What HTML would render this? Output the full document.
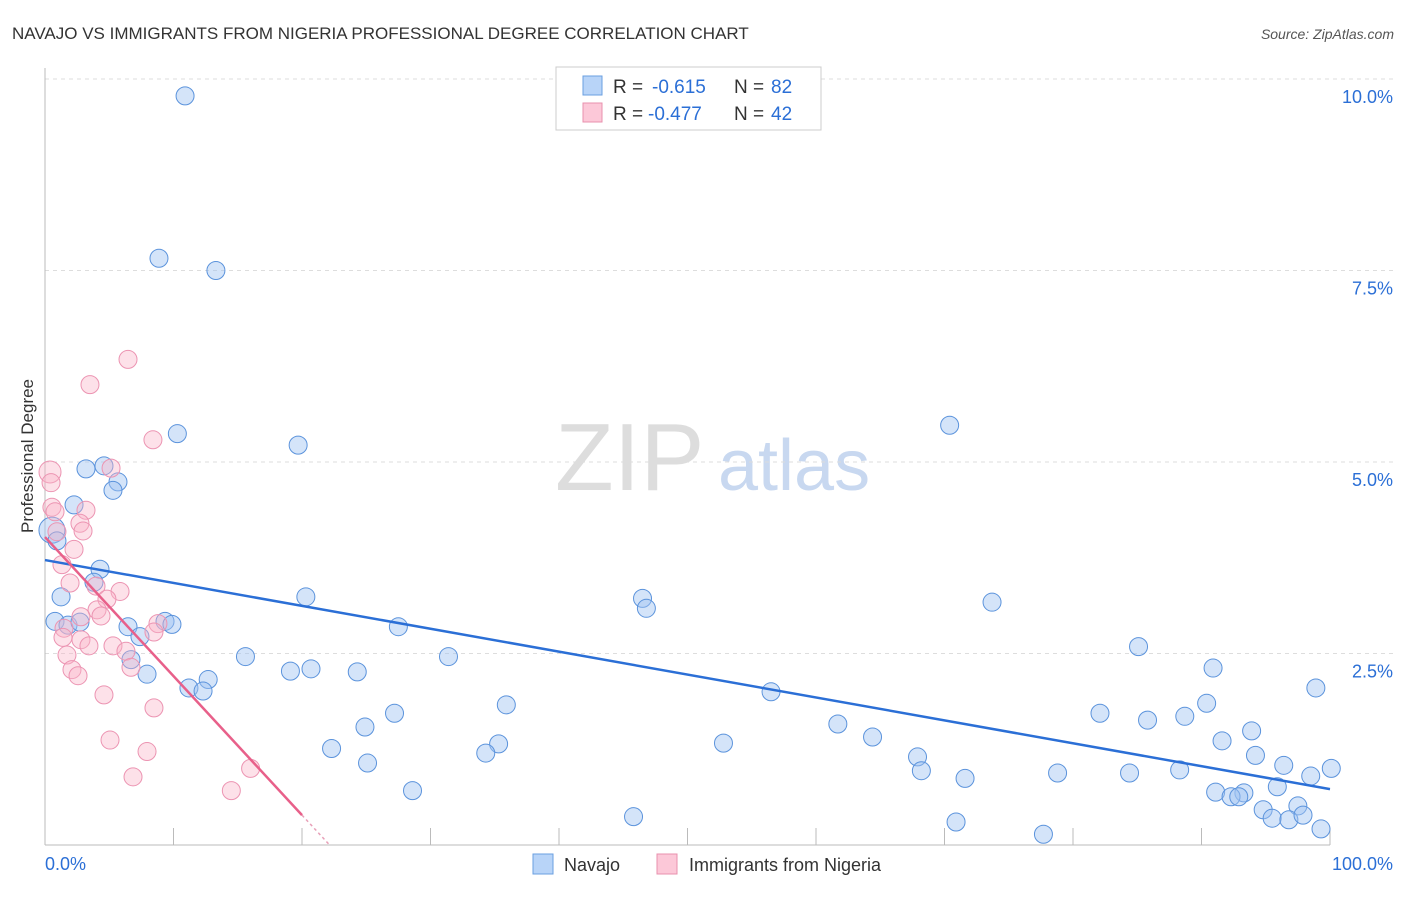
<!DOCTYPE html>
<html><head><meta charset="utf-8"><style>
body{margin:0;background:#fff;font-family:"Liberation Sans",sans-serif}
svg text{font-family:"Liberation Sans",sans-serif}
</style></head><body>
<svg width="1406" height="892" xmlns="http://www.w3.org/2000/svg">
<text x="12" y="39" font-size="17" fill="#333">NAVAJO VS IMMIGRANTS FROM NIGERIA PROFESSIONAL DEGREE CORRELATION CHART</text>
<text x="1394" y="39" font-size="14" fill="#555" font-style="italic" text-anchor="end">Source: ZipAtlas.com</text>
<text x="555" y="490" font-size="96" fill="#ddd" font-family="Liberation Serif">ZIP</text>
<text x="718" y="490" font-size="72" fill="#c8d8f0">atlas</text>
<g id="grid"></g>
<line x1="45" y1="68" x2="45" y2="845" stroke="#bbb"/>
<line x1="45" y1="845" x2="1330" y2="845" stroke="#bbb"/>
<text transform="translate(33,456) rotate(-90)" font-size="17" fill="#333" text-anchor="middle">Professional Degree</text>
<g id="pts"></g>
<g id="lines"></g>
<g>
<rect x="556" y="67" width="265" height="63" fill="#fff" stroke="#ccc"/>
<rect x="583" y="76" width="19" height="19" fill="#b8d4f8" stroke="#6a9fe0"/>
<rect x="583" y="103" width="19" height="19" fill="#fcc8d8" stroke="#e890ae"/>
<text x="613" y="93" font-size="19" fill="#333">R =</text>
<text x="652" y="93" font-size="19" fill="#2b6fd6">-0.615</text>
<text x="734" y="93" font-size="19" fill="#333">N =</text>
<text x="771" y="93" font-size="19" fill="#2b6fd6">82</text>
<text x="613" y="120" font-size="19" fill="#333">R =</text>
<text x="648" y="120" font-size="19" fill="#2b6fd6">-0.477</text>
<text x="734" y="120" font-size="19" fill="#333">N =</text>
<text x="771" y="120" font-size="19" fill="#2b6fd6">42</text>
</g>
<g>
<rect x="533" y="854" width="20" height="20" fill="#b8d4f8" stroke="#6a9fe0"/>
<text x="564" y="871" font-size="18" fill="#333">Navajo</text>
<rect x="657" y="854" width="20" height="20" fill="#fcc8d8" stroke="#e890ae"/>
<text x="689" y="871" font-size="18" fill="#333">Immigrants from Nigeria</text>
</g>
<text x="45" y="870" font-size="18" fill="#2b6fd6">0.0%</text>
<text x="1393" y="870" font-size="18" fill="#2b6fd6" text-anchor="end">100.0%</text>
</svg>
<script>
const yTicks=[2.5,5.0,7.5,10.0];
const yTickLabels=["2.5%","5.0%","7.5%","10.0%"];
const navajoX=[10.9,8.87,13.3,10.3,19.7,70.4,3.19,4.59,5.68,5.29,2.26,0.54,0.93,4.28,3.81,1.25,20.3,46.5,46.8,73.7,0.78,1.79,2.72,9.34,9.88,6.46,7.39,27.5,85.1,15.6,6.69,31.4,7.94,19.1,20.7,24.3,12.7,11.2,12.3,90.9,98.9,56.5,35.9,90.4,27.2,82.1,85.8,88.7,24.9,61.7,93.9,64.4,52.8,35.3,91.6,22.3,34.3,94.2,67.9,25.1,68.2,96.4,100.1,78.8,84.4,88.3,71.6,98.5,95.9,28.6,91.1,93.3,92.3,92.9,97.5,94.8,95.5,96.8,97.9,45.8,70.9,77.7,99.3];
const navajoY=[9.78,7.66,7.50,5.37,5.22,5.48,4.91,4.95,4.74,4.63,4.44,4.11,3.97,3.60,3.43,3.24,3.24,3.22,3.09,3.17,2.92,2.87,2.91,2.92,2.88,2.85,2.72,2.85,2.59,2.46,2.42,2.46,2.23,2.27,2.30,2.26,2.16,2.05,2.01,2.31,2.05,2.00,1.83,1.85,1.72,1.72,1.63,1.68,1.54,1.58,1.49,1.41,1.33,1.32,1.36,1.26,1.20,1.17,1.15,1.07,0.97,1.04,1.00,0.94,0.94,0.98,0.87,0.90,0.76,0.71,0.69,0.68,0.63,0.63,0.51,0.46,0.35,0.33,0.39,0.37,0.30,0.14,0.21];
const nigeriaX=[6.46,3.50,8.40,5.14,0.39,0.47,0.54,0.78,3.19,2.72,2.96,1.32,2.26,0.93,1.95,3.97,5.84,4.82,4.05,4.36,2.80,8.79,1.48,8.48,2.80,3.42,5.29,1.71,6.30,6.69,2.10,2.57,4.59,8.48,5.06,7.94,6.85,16.0,14.5,1.40];
const nigeriaY=[6.34,6.01,5.29,4.92,4.87,4.73,4.41,4.35,4.37,4.20,4.10,3.66,3.86,4.09,3.42,3.38,3.31,3.21,3.07,2.99,2.98,2.89,2.83,2.78,2.68,2.60,2.60,2.48,2.53,2.32,2.29,2.21,1.96,1.79,1.37,1.22,0.89,1.00,0.71,2.71];
const navajoTrend=[3.72,0.73];
const nigeriaTrend=[4.02,0.39];
const sx=v=>45+v*12.85, sy=v=>845-v*76.6;
const NS="http://www.w3.org/2000/svg";
function mk(t,a,p){const e=document.createElementNS(NS,t);for(const k in a)e.setAttribute(k,a[k]);p.appendChild(e);return e;}
const grid=document.getElementById('grid');
yTicks.forEach((t,i)=>{
 const l=mk('line',{x1:45,x2:1395,y1:sy(t),y2:sy(t),stroke:'#ddd','stroke-dasharray':'4,4'},grid);
 
 
 const tx=mk('text',{x:1393,y:sy(t)+24,'font-size':18,fill:'#2b6fd6','text-anchor':'end'},grid);
 tx.textContent=yTickLabels[i];
 
 
});
for(let i=1;i<=10;i++){
 const t=mk('line',{x1:sx(i*10),x2:sx(i*10),y1:828,y2:845,stroke:'#bbb'},grid);
 
 
}
const pts=document.getElementById('pts');
navajoX.forEach((x,i)=>{
 const c=mk('circle',{cx:sx(x),cy:sy(navajoY[i]),r:i==11?13:9,fill:'rgba(160,196,242,0.45)',stroke:'#5b93dc','stroke-width':1},pts);
 
 
});
nigeriaX.forEach((x,i)=>{
 const c=mk('circle',{cx:sx(x),cy:sy(nigeriaY[i]),r:i==4?11:9,fill:'rgba(250,180,200,0.4)',stroke:'#ec94b2','stroke-width':1},pts);
 
 
});
const lines=document.getElementById('lines');
const bl=mk('line',{x1:sx(0),y1:sy(navajoTrend[0]),x2:sx(100),y2:sy(navajoTrend[1]),stroke:'#2b6fd6','stroke-width':2.5},lines);


const pl=mk('line',{x1:sx(0),y1:sy(nigeriaTrend[0]),x2:sx(20),y2:sy(nigeriaTrend[1]),stroke:'#e8608a','stroke-width':2.5},lines);


const slope=(nigeriaTrend[1]-nigeriaTrend[0])/20, xe=-nigeriaTrend[0]/slope;
const pd=mk('line',{x1:sx(20),y1:sy(nigeriaTrend[1]),x2:sx(xe),y2:sy(0),stroke:'#e8a0b8','stroke-width':1.5,'stroke-dasharray':'3,3'},lines);


</script>
</body></html>
